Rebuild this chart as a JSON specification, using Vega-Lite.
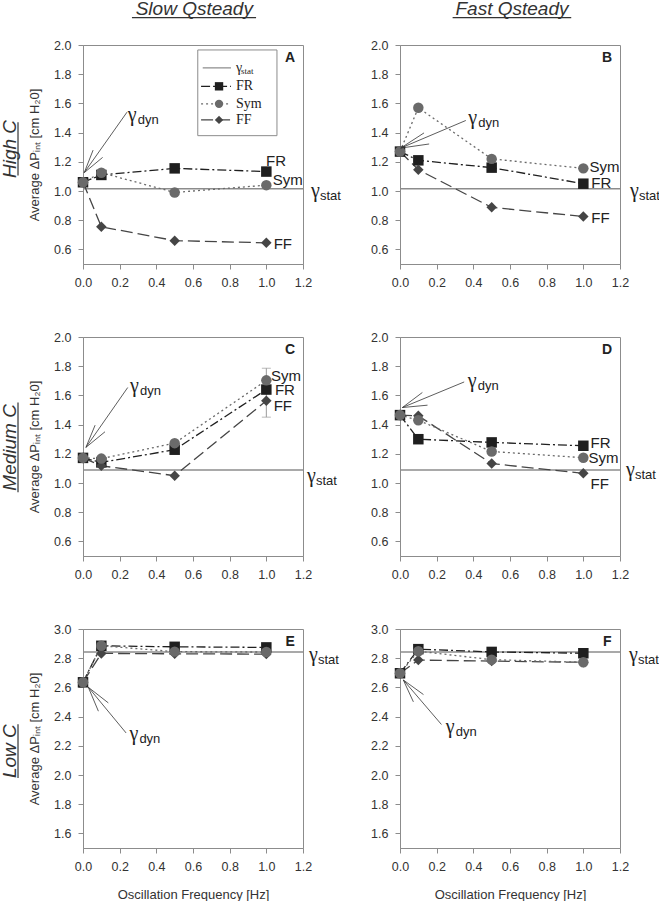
{
"$schema": "https://vega.github.io/schema/vega-lite/v6.json",
"padding": {"left": 0, "top": -1, "right": 0, "bottom": 0},
"spacing": 41,
"datasets": {
"pts": [
{"panel":"A","series":"FR","x":0,"y":1.06},{"panel":"A","series":"FR","x":0.1,"y":1.11},{"panel":"A","series":"FR","x":0.5,"y":1.155},{"panel":"A","series":"FR","x":1,"y":1.133},
{"panel":"A","series":"FF","x":0,"y":1.06},{"panel":"A","series":"FF","x":0.1,"y":0.755},{"panel":"A","series":"FF","x":0.5,"y":0.66},{"panel":"A","series":"FF","x":1,"y":0.645},
{"panel":"A","series":"Sym","x":0,"y":1.06},{"panel":"A","series":"Sym","x":0.1,"y":1.125},{"panel":"A","series":"Sym","x":0.5,"y":0.99},{"panel":"A","series":"Sym","x":1,"y":1.04},
{"panel":"B","series":"FR","x":0,"y":1.27},{"panel":"B","series":"FR","x":0.1,"y":1.21},{"panel":"B","series":"FR","x":0.5,"y":1.16},{"panel":"B","series":"FR","x":1,"y":1.05},
{"panel":"B","series":"FF","x":0,"y":1.27},{"panel":"B","series":"FF","x":0.1,"y":1.145},{"panel":"B","series":"FF","x":0.5,"y":0.888},{"panel":"B","series":"FF","x":1,"y":0.825},
{"panel":"B","series":"Sym","x":0,"y":1.27},{"panel":"B","series":"Sym","x":0.1,"y":1.57},{"panel":"B","series":"Sym","x":0.5,"y":1.22},{"panel":"B","series":"Sym","x":1,"y":1.155},
{"panel":"C","series":"FR","x":0,"y":1.172},{"panel":"C","series":"FR","x":0.1,"y":1.141},{"panel":"C","series":"FR","x":0.5,"y":1.228},{"panel":"C","series":"FR","x":1,"y":1.64},
{"panel":"C","series":"FF","x":0,"y":1.172},{"panel":"C","series":"FF","x":0.1,"y":1.118},{"panel":"C","series":"FF","x":0.5,"y":1.05},{"panel":"C","series":"FF","x":1,"y":1.563},
{"panel":"C","series":"Sym","x":0,"y":1.172},{"panel":"C","series":"Sym","x":0.1,"y":1.167},{"panel":"C","series":"Sym","x":0.5,"y":1.273},{"panel":"C","series":"Sym","x":1,"y":1.703},
{"panel":"D","series":"FR","x":0,"y":1.465},{"panel":"D","series":"FR","x":0.1,"y":1.3},{"panel":"D","series":"FR","x":0.5,"y":1.278},{"panel":"D","series":"FR","x":1,"y":1.255},
{"panel":"D","series":"FF","x":0,"y":1.465},{"panel":"D","series":"FF","x":0.1,"y":1.46},{"panel":"D","series":"FF","x":0.5,"y":1.133},{"panel":"D","series":"FF","x":1,"y":1.066},
{"panel":"D","series":"Sym","x":0,"y":1.465},{"panel":"D","series":"Sym","x":0.1,"y":1.43},{"panel":"D","series":"Sym","x":0.5,"y":1.216},{"panel":"D","series":"Sym","x":1,"y":1.173},
{"panel":"E","series":"FR","x":0,"y":2.635},{"panel":"E","series":"FR","x":0.1,"y":2.885},{"panel":"E","series":"FR","x":0.5,"y":2.878},{"panel":"E","series":"FR","x":1,"y":2.874},
{"panel":"E","series":"FF","x":0,"y":2.635},{"panel":"E","series":"FF","x":0.1,"y":2.833},{"panel":"E","series":"FF","x":0.5,"y":2.83},{"panel":"E","series":"FF","x":1,"y":2.828},
{"panel":"E","series":"Sym","x":0,"y":2.635},{"panel":"E","series":"Sym","x":0.1,"y":2.885},{"panel":"E","series":"Sym","x":0.5,"y":2.845},{"panel":"E","series":"Sym","x":1,"y":2.842},
{"panel":"F","series":"FR","x":0,"y":2.697},{"panel":"F","series":"FR","x":0.1,"y":2.862},{"panel":"F","series":"FR","x":0.5,"y":2.843},{"panel":"F","series":"FR","x":1,"y":2.834},
{"panel":"F","series":"FF","x":0,"y":2.697},{"panel":"F","series":"FF","x":0.1,"y":2.787},{"panel":"F","series":"FF","x":0.5,"y":2.78},{"panel":"F","series":"FF","x":1,"y":2.772},
{"panel":"F","series":"Sym","x":0,"y":2.697},{"panel":"F","series":"Sym","x":0.1,"y":2.848},{"panel":"F","series":"Sym","x":0.5,"y":2.79},{"panel":"F","series":"Sym","x":1,"y":2.772}
],
"gstat": [
{"panel":"A","y":1.015},{"panel":"B","y":1.016},{"panel":"C","y":1.089},{"panel":"D","y":1.089},{"panel":"E","y":2.842},{"panel":"F","y":2.843}
],
"arrows": [
{"panel":"A","x":0.007,"y":1.126,"x2":0.24,"y2":1.54},{"panel":"A","x":0.007,"y":1.126,"x2":0.055,"y2":1.28},{"panel":"A","x":0.007,"y":1.126,"x2":0.107,"y2":1.23},
{"panel":"B","x":0.004,"y":1.294,"x2":0.359,"y2":1.483},{"panel":"B","x":0.004,"y":1.294,"x2":0.131,"y2":1.398},{"panel":"B","x":0.004,"y":1.294,"x2":0.159,"y2":1.322},
{"panel":"C","x":0.016,"y":1.244,"x2":0.244,"y2":1.654},{"panel":"C","x":0.016,"y":1.244,"x2":0.066,"y2":1.396},{"panel":"C","x":0.016,"y":1.244,"x2":0.12,"y2":1.351},
{"panel":"D","x":0.013,"y":1.517,"x2":0.35,"y2":1.692},{"panel":"D","x":0.013,"y":1.517,"x2":0.122,"y2":1.62},{"panel":"D","x":0.013,"y":1.517,"x2":0.15,"y2":1.533},
{"panel":"E","x":0.029,"y":2.601,"x2":0.235,"y2":2.288},{"panel":"E","x":0.029,"y":2.601,"x2":0.138,"y2":2.494},{"panel":"E","x":0.029,"y":2.601,"x2":0.084,"y2":2.437},
{"panel":"F","x":0.018,"y":2.651,"x2":0.226,"y2":2.346},{"panel":"F","x":0.018,"y":2.651,"x2":0.128,"y2":2.551},{"panel":"F","x":0.018,"y":2.651,"x2":0.073,"y2":2.501}
],
"gdyn": [
{"panel":"A","x":0.244,"y":1.481},{"panel":"B","x":0.372,"y":1.457},{"panel":"C","x":0.256,"y":1.626},{"panel":"D","x":0.369,"y":1.66},{"panel":"E","x":0.253,"y":2.239},{"panel":"F","x":0.25,"y":2.287}
],
"labels": [
{"panel":"A","kind":"series","text":"FR","x":0.998,"y":1.205},{"panel":"A","kind":"series","text":"Sym","x":1.035,"y":1.074},{"panel":"A","kind":"series","text":"FF","x":1.04,"y":0.634},
{"panel":"B","kind":"series","text":"Sym","x":1.034,"y":1.167},{"panel":"B","kind":"series","text":"FR","x":1.043,"y":1.057},{"panel":"B","kind":"series","text":"FF","x":1.043,"y":0.816},
{"panel":"C","kind":"series","text":"Sym","x":1.025,"y":1.735},{"panel":"C","kind":"series","text":"FR","x":1.047,"y":1.635},{"panel":"C","kind":"series","text":"FF","x":1.04,"y":1.53},
{"panel":"D","kind":"series","text":"FR","x":1.039,"y":1.271},{"panel":"D","kind":"series","text":"Sym","x":1.028,"y":1.171},{"panel":"D","kind":"series","text":"FF","x":1.039,"y":0.993},
{"panel":"A","kind":"letter","text":"A","x":1.13,"y":1.91},{"panel":"B","kind":"letter","text":"B","x":1.13,"y":1.91},{"panel":"C","kind":"letter","text":"C","x":1.13,"y":1.91},
{"panel":"D","kind":"letter","text":"D","x":1.13,"y":1.91},{"panel":"E","kind":"letter","text":"E","x":1.13,"y":2.91},{"panel":"F","kind":"letter","text":"F","x":1.13,"y":2.91},
{"panel":"A","kind":"col","text":"Slow Qsteady","x":0.607,"y":2.207},{"panel":"B","kind":"col","text":"Fast Qsteady","x":0.611,"y":2.207},
{"panel":"A","kind":"row","text":"High C","x":-0.363,"y":1.288},{"panel":"C","kind":"row","text":"Medium C","x":-0.363,"y":1.244},{"panel":"E","kind":"row","text":"Low C","x":-0.363,"y":2.163}
],
"underlines": [
{"panel":"A","x":0.267,"x2":0.944,"y":2.188,"y2":2.188},
{"panel":"B","x":0.287,"x2":0.934,"y":2.188,"y2":2.188},
{"panel":"A","x":-0.3545,"x2":-0.3545,"y":1.471,"y2":1.106},
{"panel":"C","x":-0.3545,"x2":-0.3545,"y":1.551,"y2":0.936},
{"panel":"E","x":-0.3545,"x2":-0.3545,"y":2.348,"y2":1.979}
],
"err": [{"panel":"C","x":1,"y":1.451,"y2":1.786}],
"legbox": [{"x":0.626,"x2":1.058,"y":1.379,"y2":1.966}],
"legitems": [
{"series":"gstat","x":0.653,"x2":0.807,"y":1.843},
{"series":"FR","x":0.644,"x2":0.807,"y":1.717},
{"series":"Sym","x":0.644,"x2":0.807,"y":1.597},
{"series":"FF","x":0.644,"x2":0.807,"y":1.487}
],
"legpts": [
{"series":"FR","x":0.742,"y":1.717},{"series":"Sym","x":0.742,"y":1.597},{"series":"FF","x":0.742,"y":1.487}
],
"legtext": [
{"kind":"main","text":"γ","x":0.835,"y":1.843},{"kind":"sub","text":"stat","x":0.862,"y":1.822},
{"kind":"main","text":"FR","x":0.835,"y":1.717},{"kind":"main","text":"Sym","x":0.835,"y":1.597},{"kind":"main","text":"FF","x":0.835,"y":1.487}
]
},
"vconcat": [
{
"bounds": "flush",
"spacing": 97,
"hconcat": [
{
"width": 220, "height": 219,
"layer": [
{"data": {"name": "gstat"}, "transform": [{"filter": "datum.panel==='A'"}], "mark": {"type": "rule", "color": "#8c8c8c", "strokeWidth": 1.5}, "encoding": {"y": {"field": "y", "type": "quantitative"}}},
{"data": {"name": "pts"}, "transform": [{"filter": "datum.panel==='A'"}], "mark": {"type": "line", "strokeWidth": 1.3},
 "encoding": {
  "x": {"field": "x", "type": "quantitative", "scale": {"domain": [0, 1.2], "nice": false, "zero": false}, "axis": {"values": [0,0.2,0.4,0.6,0.8,1,1.2], "format": ".1f", "title": null, "labelOverlap": false, "tickCount": 7}},
  "y": {"field": "y", "type": "quantitative", "scale": {"domain": [0.5, 2], "nice": false, "zero": false}, "axis": {"values": [0.6,0.8,1,1.2,1.4,1.6,1.8,2], "format": ".1f", "title": "Average ΔPᵢₙₜ [cm H₂0]", "labelOverlap": false, "tickCount": 8}},
  "color": {"field": "series", "type": "nominal", "scale": {"domain": ["FR","Sym","FF","gstat"], "range": ["#1f1f1f","#6a6a6a","#454545","#8c8c8c"]}, "legend": null},
  "strokeDash": {"field": "series", "type": "nominal", "scale": {"domain": ["FR","Sym","FF","gstat"], "range": [[9,3,2,3],[2,3],[12,5],[1,0]]}, "legend": null}}},
{"data": {"name": "pts"}, "transform": [{"filter": "datum.panel==='A'"}], "mark": {"type": "point", "filled": true, "opacity": 1, "size": 110},
 "encoding": {"x": {"field": "x", "type": "quantitative"}, "y": {"field": "y", "type": "quantitative"},
  "color": {"field": "series", "type": "nominal", "legend": null},
  "shape": {"field": "series", "type": "nominal", "scale": {"domain": ["FR","Sym","FF"], "range": ["square","circle","diamond"]}, "legend": null}}},
{"data": {"name": "arrows"}, "transform": [{"filter": "datum.panel==='A'"}], "mark": {"type": "rule", "color": "#333", "strokeWidth": 0.8},
 "encoding": {"x": {"field": "x", "type": "quantitative"}, "y": {"field": "y", "type": "quantitative"}, "x2": {"field": "x2"}, "y2": {"field": "y2"}}},
{"data": {"name": "underlines"}, "transform": [{"filter": "datum.panel==='A'"}], "mark": {"type": "rule", "color": "#333", "strokeWidth": 1.2},
 "encoding": {"x": {"field": "x", "type": "quantitative"}, "y": {"field": "y", "type": "quantitative"}, "x2": {"field": "x2"}, "y2": {"field": "y2"}}},
{"data": {"name": "labels"}, "transform": [{"filter": "datum.panel==='A' && datum.kind==='col'"}], "mark": {"type": "text", "fontSize": 19, "fontStyle": "italic", "align": "center", "baseline": "alphabetic", "color": "#333"},
 "encoding": {"x": {"field": "x", "type": "quantitative"}, "y": {"field": "y", "type": "quantitative"}, "text": {"field": "text"}}},
{"data": {"name": "labels"}, "transform": [{"filter": "datum.panel==='A' && datum.kind==='row'"}], "mark": {"type": "text", "fontSize": 19, "fontStyle": "italic", "angle": 270, "align": "center", "baseline": "alphabetic", "color": "#333"},
 "encoding": {"x": {"field": "x", "type": "quantitative"}, "y": {"field": "y", "type": "quantitative"}, "text": {"field": "text"}}},
{"data": {"name": "gdyn"}, "transform": [{"filter": "datum.panel==='A'"}], "mark": {"type": "text", "text": "γ", "font": "Liberation Serif", "fontSize": 20, "align": "left", "baseline": "alphabetic", "color": "#222"},
 "encoding": {"x": {"field": "x", "type": "quantitative"}, "y": {"field": "y", "type": "quantitative"}}},
{"data": {"name": "gdyn"}, "transform": [{"filter": "datum.panel==='A'"}], "mark": {"type": "text", "text": "dyn", "fontSize": 13, "align": "left", "baseline": "alphabetic", "dx": 10, "dy": 3, "color": "#222"},
 "encoding": {"x": {"field": "x", "type": "quantitative"}, "y": {"field": "y", "type": "quantitative"}}},
{"data": {"name": "gstat"}, "transform": [{"filter": "datum.panel==='A'"}], "mark": {"type": "text", "text": "γ", "font": "Liberation Serif", "fontSize": 20, "align": "left", "baseline": "alphabetic", "dx": 8, "dy": 8, "color": "#222"},
 "encoding": {"x": {"datum": 1.2, "type": "quantitative"}, "y": {"field": "y", "type": "quantitative"}}},
{"data": {"name": "gstat"}, "transform": [{"filter": "datum.panel==='A'"}], "mark": {"type": "text", "text": "stat", "fontSize": 13, "align": "left", "baseline": "alphabetic", "dx": 17, "dy": 11, "color": "#222"},
 "encoding": {"x": {"datum": 1.2, "type": "quantitative"}, "y": {"field": "y", "type": "quantitative"}}},
{"data": {"name": "labels"}, "transform": [{"filter": "datum.panel==='A' && datum.kind==='series'"}], "mark": {"type": "text", "fontSize": 15, "align": "left", "baseline": "middle", "color": "#222"},
 "encoding": {"x": {"field": "x", "type": "quantitative"}, "y": {"field": "y", "type": "quantitative"}, "text": {"field": "text"}}},
{"data": {"name": "labels"}, "transform": [{"filter": "datum.panel==='A' && datum.kind==='letter'"}], "mark": {"type": "text", "fontSize": 14, "fontWeight": "bold", "align": "center", "baseline": "middle", "color": "#222"},
 "encoding": {"x": {"field": "x", "type": "quantitative"}, "y": {"field": "y", "type": "quantitative"}, "text": {"field": "text"}}},
{"data": {"name": "legbox"}, "mark": {"type": "rect", "fill": "white", "stroke": "#8c8c8c", "strokeWidth": 1},
 "encoding": {"x": {"field": "x", "type": "quantitative"}, "x2": {"field": "x2"}, "y": {"field": "y", "type": "quantitative"}, "y2": {"field": "y2"}}},
{"data": {"name": "legitems"}, "mark": {"type": "rule", "strokeWidth": 1.3},
 "encoding": {"x": {"field": "x", "type": "quantitative"}, "x2": {"field": "x2"}, "y": {"field": "y", "type": "quantitative"},
  "color": {"field": "series", "type": "nominal", "legend": null}, "strokeDash": {"field": "series", "type": "nominal", "legend": null}}},
{"data": {"name": "legpts"}, "mark": {"type": "point", "filled": true, "opacity": 1, "size": 70},
 "encoding": {"x": {"field": "x", "type": "quantitative"}, "y": {"field": "y", "type": "quantitative"},
  "color": {"field": "series", "type": "nominal", "legend": null}, "shape": {"field": "series", "type": "nominal", "legend": null}}},
{"data": {"name": "legtext"}, "transform": [{"filter": "datum.kind==='main'"}], "mark": {"type": "text", "font": "Liberation Serif", "fontSize": 14, "align": "left", "baseline": "middle", "color": "#222"},
 "encoding": {"x": {"field": "x", "type": "quantitative"}, "y": {"field": "y", "type": "quantitative"}, "text": {"field": "text"}}},
{"data": {"name": "legtext"}, "transform": [{"filter": "datum.kind==='sub'"}], "mark": {"type": "text", "font": "Liberation Serif", "fontSize": 9, "align": "left", "baseline": "middle", "color": "#222"},
 "encoding": {"x": {"field": "x", "type": "quantitative"}, "y": {"field": "y", "type": "quantitative"}, "text": {"field": "text"}}}
]
},
{
"width": 220, "height": 219,
"layer": [
{"data": {"name": "gstat"}, "transform": [{"filter": "datum.panel==='B'"}], "mark": {"type": "rule", "color": "#8c8c8c", "strokeWidth": 1.5}, "encoding": {"y": {"field": "y", "type": "quantitative"}}},
{"data": {"name": "pts"}, "transform": [{"filter": "datum.panel==='B'"}], "mark": {"type": "line", "strokeWidth": 1.3},
 "encoding": {
  "x": {"field": "x", "type": "quantitative", "scale": {"domain": [0, 1.2], "nice": false, "zero": false}, "axis": {"values": [0,0.2,0.4,0.6,0.8,1,1.2], "format": ".1f", "title": null, "labelOverlap": false, "tickCount": 7}},
  "y": {"field": "y", "type": "quantitative", "scale": {"domain": [0.5, 2], "nice": false, "zero": false}, "axis": {"values": [0.6,0.8,1,1.2,1.4,1.6,1.8,2], "format": ".1f", "title": null, "labelOverlap": false, "tickCount": 8}},
  "color": {"field": "series", "type": "nominal", "scale": {"domain": ["FR","Sym","FF","gstat"], "range": ["#1f1f1f","#6a6a6a","#454545","#8c8c8c"]}, "legend": null},
  "strokeDash": {"field": "series", "type": "nominal", "scale": {"domain": ["FR","Sym","FF","gstat"], "range": [[9,3,2,3],[2,3],[12,5],[1,0]]}, "legend": null}}},
{"data": {"name": "pts"}, "transform": [{"filter": "datum.panel==='B'"}], "mark": {"type": "point", "filled": true, "opacity": 1, "size": 110},
 "encoding": {"x": {"field": "x", "type": "quantitative"}, "y": {"field": "y", "type": "quantitative"},
  "color": {"field": "series", "type": "nominal", "legend": null},
  "shape": {"field": "series", "type": "nominal", "scale": {"domain": ["FR","Sym","FF"], "range": ["square","circle","diamond"]}, "legend": null}}},
{"data": {"name": "arrows"}, "transform": [{"filter": "datum.panel==='B'"}], "mark": {"type": "rule", "color": "#333", "strokeWidth": 0.8},
 "encoding": {"x": {"field": "x", "type": "quantitative"}, "y": {"field": "y", "type": "quantitative"}, "x2": {"field": "x2"}, "y2": {"field": "y2"}}},
{"data": {"name": "underlines"}, "transform": [{"filter": "datum.panel==='B'"}], "mark": {"type": "rule", "color": "#333", "strokeWidth": 1.2},
 "encoding": {"x": {"field": "x", "type": "quantitative"}, "y": {"field": "y", "type": "quantitative"}, "x2": {"field": "x2"}, "y2": {"field": "y2"}}},
{"data": {"name": "labels"}, "transform": [{"filter": "datum.panel==='B' && datum.kind==='col'"}], "mark": {"type": "text", "fontSize": 19, "fontStyle": "italic", "align": "center", "baseline": "alphabetic", "color": "#333"},
 "encoding": {"x": {"field": "x", "type": "quantitative"}, "y": {"field": "y", "type": "quantitative"}, "text": {"field": "text"}}},
{"data": {"name": "gdyn"}, "transform": [{"filter": "datum.panel==='B'"}], "mark": {"type": "text", "text": "γ", "font": "Liberation Serif", "fontSize": 20, "align": "left", "baseline": "alphabetic", "color": "#222"},
 "encoding": {"x": {"field": "x", "type": "quantitative"}, "y": {"field": "y", "type": "quantitative"}}},
{"data": {"name": "gdyn"}, "transform": [{"filter": "datum.panel==='B'"}], "mark": {"type": "text", "text": "dyn", "fontSize": 13, "align": "left", "baseline": "alphabetic", "dx": 10, "dy": 3, "color": "#222"},
 "encoding": {"x": {"field": "x", "type": "quantitative"}, "y": {"field": "y", "type": "quantitative"}}},
{"data": {"name": "gstat"}, "transform": [{"filter": "datum.panel==='B'"}], "mark": {"type": "text", "text": "γ", "font": "Liberation Serif", "fontSize": 20, "align": "left", "baseline": "alphabetic", "dx": 10, "dy": 8, "color": "#222"},
 "encoding": {"x": {"datum": 1.2, "type": "quantitative"}, "y": {"field": "y", "type": "quantitative"}}},
{"data": {"name": "gstat"}, "transform": [{"filter": "datum.panel==='B'"}], "mark": {"type": "text", "text": "stat", "fontSize": 13, "align": "left", "baseline": "alphabetic", "dx": 19, "dy": 11, "color": "#222"},
 "encoding": {"x": {"datum": 1.2, "type": "quantitative"}, "y": {"field": "y", "type": "quantitative"}}},
{"data": {"name": "labels"}, "transform": [{"filter": "datum.panel==='B' && datum.kind==='series'"}], "mark": {"type": "text", "fontSize": 15, "align": "left", "baseline": "middle", "color": "#222"},
 "encoding": {"x": {"field": "x", "type": "quantitative"}, "y": {"field": "y", "type": "quantitative"}, "text": {"field": "text"}}},
{"data": {"name": "labels"}, "transform": [{"filter": "datum.panel==='B' && datum.kind==='letter'"}], "mark": {"type": "text", "fontSize": 14, "fontWeight": "bold", "align": "center", "baseline": "middle", "color": "#222"},
 "encoding": {"x": {"field": "x", "type": "quantitative"}, "y": {"field": "y", "type": "quantitative"}, "text": {"field": "text"}}}
]
}
]
},
{
"bounds": "flush",
"spacing": 97,
"hconcat": [
{
"width": 220, "height": 219,
"layer": [
{"data": {"name": "gstat"}, "transform": [{"filter": "datum.panel==='C'"}], "mark": {"type": "rule", "color": "#8c8c8c", "strokeWidth": 1.5}, "encoding": {"y": {"field": "y", "type": "quantitative"}}},
{"data": {"name": "err"}, "mark": {"type": "rule", "color": "#9a9a9a", "strokeWidth": 1},
 "encoding": {"x": {"field": "x", "type": "quantitative"}, "y": {"field": "y", "type": "quantitative"}, "y2": {"field": "y2"}}},
{"data": {"name": "err"}, "mark": {"type": "tick", "orient": "horizontal", "size": 9, "thickness": 1, "color": "#9a9a9a"},
 "encoding": {"x": {"field": "x", "type": "quantitative"}, "y": {"field": "y", "type": "quantitative"}}},
{"data": {"name": "err"}, "mark": {"type": "tick", "orient": "horizontal", "size": 9, "thickness": 1, "color": "#9a9a9a"},
 "encoding": {"x": {"field": "x", "type": "quantitative"}, "y": {"field": "y2", "type": "quantitative"}}},
{"data": {"name": "pts"}, "transform": [{"filter": "datum.panel==='C'"}], "mark": {"type": "line", "strokeWidth": 1.3},
 "encoding": {
  "x": {"field": "x", "type": "quantitative", "scale": {"domain": [0, 1.2], "nice": false, "zero": false}, "axis": {"values": [0,0.2,0.4,0.6,0.8,1,1.2], "format": ".1f", "title": null, "labelOverlap": false, "tickCount": 7}},
  "y": {"field": "y", "type": "quantitative", "scale": {"domain": [0.5, 2], "nice": false, "zero": false}, "axis": {"values": [0.6,0.8,1,1.2,1.4,1.6,1.8,2], "format": ".1f", "title": "Average ΔPᵢₙₜ [cm H₂0]", "labelOverlap": false, "tickCount": 8}},
  "color": {"field": "series", "type": "nominal", "scale": {"domain": ["FR","Sym","FF","gstat"], "range": ["#1f1f1f","#6a6a6a","#454545","#8c8c8c"]}, "legend": null},
  "strokeDash": {"field": "series", "type": "nominal", "scale": {"domain": ["FR","Sym","FF","gstat"], "range": [[9,3,2,3],[2,3],[12,5],[1,0]]}, "legend": null}}},
{"data": {"name": "pts"}, "transform": [{"filter": "datum.panel==='C'"}], "mark": {"type": "point", "filled": true, "opacity": 1, "size": 110},
 "encoding": {"x": {"field": "x", "type": "quantitative"}, "y": {"field": "y", "type": "quantitative"},
  "color": {"field": "series", "type": "nominal", "legend": null},
  "shape": {"field": "series", "type": "nominal", "scale": {"domain": ["FR","Sym","FF"], "range": ["square","circle","diamond"]}, "legend": null}}},
{"data": {"name": "arrows"}, "transform": [{"filter": "datum.panel==='C'"}], "mark": {"type": "rule", "color": "#333", "strokeWidth": 0.8},
 "encoding": {"x": {"field": "x", "type": "quantitative"}, "y": {"field": "y", "type": "quantitative"}, "x2": {"field": "x2"}, "y2": {"field": "y2"}}},
{"data": {"name": "underlines"}, "transform": [{"filter": "datum.panel==='C'"}], "mark": {"type": "rule", "color": "#333", "strokeWidth": 1.2},
 "encoding": {"x": {"field": "x", "type": "quantitative"}, "y": {"field": "y", "type": "quantitative"}, "x2": {"field": "x2"}, "y2": {"field": "y2"}}},
{"data": {"name": "labels"}, "transform": [{"filter": "datum.panel==='C' && datum.kind==='row'"}], "mark": {"type": "text", "fontSize": 19, "fontStyle": "italic", "angle": 270, "align": "center", "baseline": "alphabetic", "color": "#333"},
 "encoding": {"x": {"field": "x", "type": "quantitative"}, "y": {"field": "y", "type": "quantitative"}, "text": {"field": "text"}}},
{"data": {"name": "gdyn"}, "transform": [{"filter": "datum.panel==='C'"}], "mark": {"type": "text", "text": "γ", "font": "Liberation Serif", "fontSize": 20, "align": "left", "baseline": "alphabetic", "color": "#222"},
 "encoding": {"x": {"field": "x", "type": "quantitative"}, "y": {"field": "y", "type": "quantitative"}}},
{"data": {"name": "gdyn"}, "transform": [{"filter": "datum.panel==='C'"}], "mark": {"type": "text", "text": "dyn", "fontSize": 13, "align": "left", "baseline": "alphabetic", "dx": 10, "dy": 3, "color": "#222"},
 "encoding": {"x": {"field": "x", "type": "quantitative"}, "y": {"field": "y", "type": "quantitative"}}},
{"data": {"name": "gstat"}, "transform": [{"filter": "datum.panel==='C'"}], "mark": {"type": "text", "text": "γ", "font": "Liberation Serif", "fontSize": 20, "align": "left", "baseline": "alphabetic", "dx": 4, "dy": 12, "color": "#222"},
 "encoding": {"x": {"datum": 1.2, "type": "quantitative"}, "y": {"field": "y", "type": "quantitative"}}},
{"data": {"name": "gstat"}, "transform": [{"filter": "datum.panel==='C'"}], "mark": {"type": "text", "text": "stat", "fontSize": 13, "align": "left", "baseline": "alphabetic", "dx": 13, "dy": 15, "color": "#222"},
 "encoding": {"x": {"datum": 1.2, "type": "quantitative"}, "y": {"field": "y", "type": "quantitative"}}},
{"data": {"name": "labels"}, "transform": [{"filter": "datum.panel==='C' && datum.kind==='series'"}], "mark": {"type": "text", "fontSize": 15, "align": "left", "baseline": "middle", "color": "#222"},
 "encoding": {"x": {"field": "x", "type": "quantitative"}, "y": {"field": "y", "type": "quantitative"}, "text": {"field": "text"}}},
{"data": {"name": "labels"}, "transform": [{"filter": "datum.panel==='C' && datum.kind==='letter'"}], "mark": {"type": "text", "fontSize": 14, "fontWeight": "bold", "align": "center", "baseline": "middle", "color": "#222"},
 "encoding": {"x": {"field": "x", "type": "quantitative"}, "y": {"field": "y", "type": "quantitative"}, "text": {"field": "text"}}}
]
},
{
"width": 220, "height": 219,
"layer": [
{"data": {"name": "gstat"}, "transform": [{"filter": "datum.panel==='D'"}], "mark": {"type": "rule", "color": "#8c8c8c", "strokeWidth": 1.5}, "encoding": {"y": {"field": "y", "type": "quantitative"}}},
{"data": {"name": "pts"}, "transform": [{"filter": "datum.panel==='D'"}], "mark": {"type": "line", "strokeWidth": 1.3},
 "encoding": {
  "x": {"field": "x", "type": "quantitative", "scale": {"domain": [0, 1.2], "nice": false, "zero": false}, "axis": {"values": [0,0.2,0.4,0.6,0.8,1,1.2], "format": ".1f", "title": null, "labelOverlap": false, "tickCount": 7}},
  "y": {"field": "y", "type": "quantitative", "scale": {"domain": [0.5, 2], "nice": false, "zero": false}, "axis": {"values": [0.6,0.8,1,1.2,1.4,1.6,1.8,2], "format": ".1f", "title": null, "labelOverlap": false, "tickCount": 8}},
  "color": {"field": "series", "type": "nominal", "scale": {"domain": ["FR","Sym","FF","gstat"], "range": ["#1f1f1f","#6a6a6a","#454545","#8c8c8c"]}, "legend": null},
  "strokeDash": {"field": "series", "type": "nominal", "scale": {"domain": ["FR","Sym","FF","gstat"], "range": [[9,3,2,3],[2,3],[12,5],[1,0]]}, "legend": null}}},
{"data": {"name": "pts"}, "transform": [{"filter": "datum.panel==='D'"}], "mark": {"type": "point", "filled": true, "opacity": 1, "size": 110},
 "encoding": {"x": {"field": "x", "type": "quantitative"}, "y": {"field": "y", "type": "quantitative"},
  "color": {"field": "series", "type": "nominal", "legend": null},
  "shape": {"field": "series", "type": "nominal", "scale": {"domain": ["FR","Sym","FF"], "range": ["square","circle","diamond"]}, "legend": null}}},
{"data": {"name": "arrows"}, "transform": [{"filter": "datum.panel==='D'"}], "mark": {"type": "rule", "color": "#333", "strokeWidth": 0.8},
 "encoding": {"x": {"field": "x", "type": "quantitative"}, "y": {"field": "y", "type": "quantitative"}, "x2": {"field": "x2"}, "y2": {"field": "y2"}}},
{"data": {"name": "gdyn"}, "transform": [{"filter": "datum.panel==='D'"}], "mark": {"type": "text", "text": "γ", "font": "Liberation Serif", "fontSize": 20, "align": "left", "baseline": "alphabetic", "color": "#222"},
 "encoding": {"x": {"field": "x", "type": "quantitative"}, "y": {"field": "y", "type": "quantitative"}}},
{"data": {"name": "gdyn"}, "transform": [{"filter": "datum.panel==='D'"}], "mark": {"type": "text", "text": "dyn", "fontSize": 13, "align": "left", "baseline": "alphabetic", "dx": 10, "dy": 3, "color": "#222"},
 "encoding": {"x": {"field": "x", "type": "quantitative"}, "y": {"field": "y", "type": "quantitative"}}},
{"data": {"name": "gstat"}, "transform": [{"filter": "datum.panel==='D'"}], "mark": {"type": "text", "text": "γ", "font": "Liberation Serif", "fontSize": 20, "align": "left", "baseline": "alphabetic", "dx": 6, "dy": 6, "color": "#222"},
 "encoding": {"x": {"datum": 1.2, "type": "quantitative"}, "y": {"field": "y", "type": "quantitative"}}},
{"data": {"name": "gstat"}, "transform": [{"filter": "datum.panel==='D'"}], "mark": {"type": "text", "text": "stat", "fontSize": 13, "align": "left", "baseline": "alphabetic", "dx": 15, "dy": 9, "color": "#222"},
 "encoding": {"x": {"datum": 1.2, "type": "quantitative"}, "y": {"field": "y", "type": "quantitative"}}},
{"data": {"name": "labels"}, "transform": [{"filter": "datum.panel==='D' && datum.kind==='series'"}], "mark": {"type": "text", "fontSize": 15, "align": "left", "baseline": "middle", "color": "#222"},
 "encoding": {"x": {"field": "x", "type": "quantitative"}, "y": {"field": "y", "type": "quantitative"}, "text": {"field": "text"}}},
{"data": {"name": "labels"}, "transform": [{"filter": "datum.panel==='D' && datum.kind==='letter'"}], "mark": {"type": "text", "fontSize": 14, "fontWeight": "bold", "align": "center", "baseline": "middle", "color": "#222"},
 "encoding": {"x": {"field": "x", "type": "quantitative"}, "y": {"field": "y", "type": "quantitative"}, "text": {"field": "text"}}}
]
}
]
},
{
"bounds": "flush",
"spacing": 97,
"hconcat": [
{
"width": 220, "height": 219,
"layer": [
{"data": {"name": "gstat"}, "transform": [{"filter": "datum.panel==='E'"}], "mark": {"type": "rule", "color": "#8c8c8c", "strokeWidth": 1.5}, "encoding": {"y": {"field": "y", "type": "quantitative"}}},
{"data": {"name": "pts"}, "transform": [{"filter": "datum.panel==='E'"}], "mark": {"type": "line", "strokeWidth": 1.3},
 "encoding": {
  "x": {"field": "x", "type": "quantitative", "scale": {"domain": [0, 1.2], "nice": false, "zero": false}, "axis": {"values": [0,0.2,0.4,0.6,0.8,1,1.2], "format": ".1f", "title": "Oscillation Frequency [Hz]", "labelOverlap": false, "tickCount": 7}},
  "y": {"field": "y", "type": "quantitative", "scale": {"domain": [1.5, 3], "nice": false, "zero": false}, "axis": {"values": [1.6,1.8,2,2.2,2.4,2.6,2.8,3], "format": ".1f", "title": "Average ΔPᵢₙₜ [cm H₂0]", "labelOverlap": false, "tickCount": 8}},
  "color": {"field": "series", "type": "nominal", "scale": {"domain": ["FR","Sym","FF","gstat"], "range": ["#1f1f1f","#6a6a6a","#454545","#8c8c8c"]}, "legend": null},
  "strokeDash": {"field": "series", "type": "nominal", "scale": {"domain": ["FR","Sym","FF","gstat"], "range": [[9,3,2,3],[2,3],[12,5],[1,0]]}, "legend": null}}},
{"data": {"name": "pts"}, "transform": [{"filter": "datum.panel==='E'"}], "mark": {"type": "point", "filled": true, "opacity": 1, "size": 110},
 "encoding": {"x": {"field": "x", "type": "quantitative"}, "y": {"field": "y", "type": "quantitative"},
  "color": {"field": "series", "type": "nominal", "legend": null},
  "shape": {"field": "series", "type": "nominal", "scale": {"domain": ["FR","Sym","FF"], "range": ["square","circle","diamond"]}, "legend": null}}},
{"data": {"name": "arrows"}, "transform": [{"filter": "datum.panel==='E'"}], "mark": {"type": "rule", "color": "#333", "strokeWidth": 0.8},
 "encoding": {"x": {"field": "x", "type": "quantitative"}, "y": {"field": "y", "type": "quantitative"}, "x2": {"field": "x2"}, "y2": {"field": "y2"}}},
{"data": {"name": "underlines"}, "transform": [{"filter": "datum.panel==='E'"}], "mark": {"type": "rule", "color": "#333", "strokeWidth": 1.2},
 "encoding": {"x": {"field": "x", "type": "quantitative"}, "y": {"field": "y", "type": "quantitative"}, "x2": {"field": "x2"}, "y2": {"field": "y2"}}},
{"data": {"name": "labels"}, "transform": [{"filter": "datum.panel==='E' && datum.kind==='row'"}], "mark": {"type": "text", "fontSize": 19, "fontStyle": "italic", "angle": 270, "align": "center", "baseline": "alphabetic", "color": "#333"},
 "encoding": {"x": {"field": "x", "type": "quantitative"}, "y": {"field": "y", "type": "quantitative"}, "text": {"field": "text"}}},
{"data": {"name": "gdyn"}, "transform": [{"filter": "datum.panel==='E'"}], "mark": {"type": "text", "text": "γ", "font": "Liberation Serif", "fontSize": 20, "align": "left", "baseline": "alphabetic", "color": "#222"},
 "encoding": {"x": {"field": "x", "type": "quantitative"}, "y": {"field": "y", "type": "quantitative"}}},
{"data": {"name": "gdyn"}, "transform": [{"filter": "datum.panel==='E'"}], "mark": {"type": "text", "text": "dyn", "fontSize": 13, "align": "left", "baseline": "alphabetic", "dx": 10, "dy": 3, "color": "#222"},
 "encoding": {"x": {"field": "x", "type": "quantitative"}, "y": {"field": "y", "type": "quantitative"}}},
{"data": {"name": "gstat"}, "transform": [{"filter": "datum.panel==='E'"}], "mark": {"type": "text", "text": "γ", "font": "Liberation Serif", "fontSize": 20, "align": "left", "baseline": "alphabetic", "dx": 6, "dy": 9, "color": "#222"},
 "encoding": {"x": {"datum": 1.2, "type": "quantitative"}, "y": {"field": "y", "type": "quantitative"}}},
{"data": {"name": "gstat"}, "transform": [{"filter": "datum.panel==='E'"}], "mark": {"type": "text", "text": "stat", "fontSize": 13, "align": "left", "baseline": "alphabetic", "dx": 15, "dy": 12, "color": "#222"},
 "encoding": {"x": {"datum": 1.2, "type": "quantitative"}, "y": {"field": "y", "type": "quantitative"}}},
{"data": {"name": "labels"}, "transform": [{"filter": "datum.panel==='E' && datum.kind==='letter'"}], "mark": {"type": "text", "fontSize": 14, "fontWeight": "bold", "align": "center", "baseline": "middle", "color": "#222"},
 "encoding": {"x": {"field": "x", "type": "quantitative"}, "y": {"field": "y", "type": "quantitative"}, "text": {"field": "text"}}}
]
},
{
"width": 220, "height": 219,
"layer": [
{"data": {"name": "gstat"}, "transform": [{"filter": "datum.panel==='F'"}], "mark": {"type": "rule", "color": "#8c8c8c", "strokeWidth": 1.5}, "encoding": {"y": {"field": "y", "type": "quantitative"}}},
{"data": {"name": "pts"}, "transform": [{"filter": "datum.panel==='F'"}], "mark": {"type": "line", "strokeWidth": 1.3},
 "encoding": {
  "x": {"field": "x", "type": "quantitative", "scale": {"domain": [0, 1.2], "nice": false, "zero": false}, "axis": {"values": [0,0.2,0.4,0.6,0.8,1,1.2], "format": ".1f", "title": "Oscillation Frequency [Hz]", "labelOverlap": false, "tickCount": 7}},
  "y": {"field": "y", "type": "quantitative", "scale": {"domain": [1.5, 3], "nice": false, "zero": false}, "axis": {"values": [1.6,1.8,2,2.2,2.4,2.6,2.8,3], "format": ".1f", "title": null, "labelOverlap": false, "tickCount": 8}},
  "color": {"field": "series", "type": "nominal", "scale": {"domain": ["FR","Sym","FF","gstat"], "range": ["#1f1f1f","#6a6a6a","#454545","#8c8c8c"]}, "legend": null},
  "strokeDash": {"field": "series", "type": "nominal", "scale": {"domain": ["FR","Sym","FF","gstat"], "range": [[9,3,2,3],[2,3],[12,5],[1,0]]}, "legend": null}}},
{"data": {"name": "pts"}, "transform": [{"filter": "datum.panel==='F'"}], "mark": {"type": "point", "filled": true, "opacity": 1, "size": 110},
 "encoding": {"x": {"field": "x", "type": "quantitative"}, "y": {"field": "y", "type": "quantitative"},
  "color": {"field": "series", "type": "nominal", "legend": null},
  "shape": {"field": "series", "type": "nominal", "scale": {"domain": ["FR","Sym","FF"], "range": ["square","circle","diamond"]}, "legend": null}}},
{"data": {"name": "arrows"}, "transform": [{"filter": "datum.panel==='F'"}], "mark": {"type": "rule", "color": "#333", "strokeWidth": 0.8},
 "encoding": {"x": {"field": "x", "type": "quantitative"}, "y": {"field": "y", "type": "quantitative"}, "x2": {"field": "x2"}, "y2": {"field": "y2"}}},
{"data": {"name": "gdyn"}, "transform": [{"filter": "datum.panel==='F'"}], "mark": {"type": "text", "text": "γ", "font": "Liberation Serif", "fontSize": 20, "align": "left", "baseline": "alphabetic", "color": "#222"},
 "encoding": {"x": {"field": "x", "type": "quantitative"}, "y": {"field": "y", "type": "quantitative"}}},
{"data": {"name": "gdyn"}, "transform": [{"filter": "datum.panel==='F'"}], "mark": {"type": "text", "text": "dyn", "fontSize": 13, "align": "left", "baseline": "alphabetic", "dx": 10, "dy": 3, "color": "#222"},
 "encoding": {"x": {"field": "x", "type": "quantitative"}, "y": {"field": "y", "type": "quantitative"}}},
{"data": {"name": "gstat"}, "transform": [{"filter": "datum.panel==='F'"}], "mark": {"type": "text", "text": "γ", "font": "Liberation Serif", "fontSize": 20, "align": "left", "baseline": "alphabetic", "dx": 9, "dy": 9, "color": "#222"},
 "encoding": {"x": {"datum": 1.2, "type": "quantitative"}, "y": {"field": "y", "type": "quantitative"}}},
{"data": {"name": "gstat"}, "transform": [{"filter": "datum.panel==='F'"}], "mark": {"type": "text", "text": "stat", "fontSize": 13, "align": "left", "baseline": "alphabetic", "dx": 18, "dy": 12, "color": "#222"},
 "encoding": {"x": {"datum": 1.2, "type": "quantitative"}, "y": {"field": "y", "type": "quantitative"}}},
{"data": {"name": "labels"}, "transform": [{"filter": "datum.panel==='F' && datum.kind==='letter'"}], "mark": {"type": "text", "fontSize": 14, "fontWeight": "bold", "align": "center", "baseline": "middle", "color": "#222"},
 "encoding": {"x": {"field": "x", "type": "quantitative"}, "y": {"field": "y", "type": "quantitative"}, "text": {"field": "text"}}}
]
}
]
}
],
"resolve": {"scale": {"x": "independent", "y": "independent"}},
"config": {
"view": {"stroke": "#8c8c8c", "strokeWidth": 1},
"font": "Liberation Sans",
"text": {"font": "Liberation Sans"},
"title": {"font": "Liberation Sans"},
"axis": {"grid": false, "domainColor": "#8c8c8c", "tickColor": "#8c8c8c", "tickSize": 5, "labelFont": "Liberation Sans", "labelFontSize": 12.5, "labelColor": "#333", "labelPadding": 7, "labelFlush": false, "labelOverlap": false, "titleFont": "Liberation Sans", "titleFontWeight": "normal", "titleColor": "#333", "titleFontSize": 13},
"axisY": {"titlePadding": 12},
"axisX": {"titlePadding": 16}
}
}
